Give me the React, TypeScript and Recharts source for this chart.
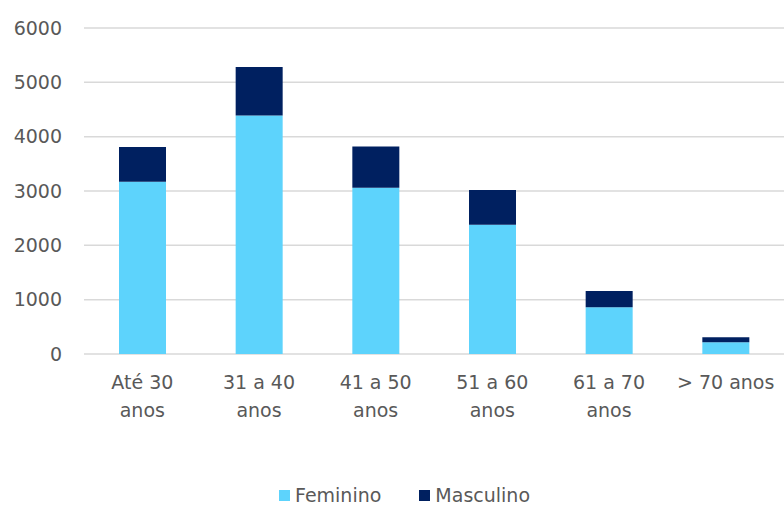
import React from "react";
import { BarChart, Bar, XAxis, YAxis, CartesianGrid, Legend } from "recharts";

// Age groups and headcount by sex
const categories = ["Até 30 anos", "31 a 40 anos", "41 a 50 anos", "51 a 60 anos", "61 a 70 anos", "> 70 anos"];
const tickLines = [["Até 30", "anos"], ["31 a 40", "anos"], ["41 a 50", "anos"], ["51 a 60", "anos"], ["61 a 70", "anos"], ["> 70 anos"]];
const feminino = [3170, 4390, 3060, 2380, 860, 215];
const masculino = [640, 890, 760, 640, 300, 95];
const yTicks = [0, 1000, 2000, 3000, 4000, 5000, 6000];

const seriesNames = { fem: "Feminino", masc: "Masculino" };
const colors = { fem: "#5DD3FC", masc: "#002060" };

const data = categories.map((c, i) => ({ name: c, fem: feminino[i], masc: masculino[i] }));

const FONT = "'DejaVu Sans', sans-serif";
const TEXT = "#595959";

const CategoryTick = (props: any) => {
  const { x, y, payload } = props;
  const lines = tickLines[payload.index] || [payload.value];
  return (
    <text x={x} y={y} textAnchor="middle" fill={TEXT} fontSize={19} fontFamily={FONT}>
      {lines.map((l, i) => (
        <tspan key={i} x={x} dy={i === 0 ? "0.71em" : 28}>
          {l}
        </tspan>
      ))}
    </text>
  );
};

const LegendContent = () => (
  <div style={{ display: "flex", alignItems: "center", fontFamily: FONT, fontSize: 19, color: TEXT, lineHeight: "22px", height: 22 }}>
    {(["fem", "masc"] as const).map((k, i) => (
      <div key={k} style={{ display: "flex", alignItems: "center", marginLeft: i === 0 ? 0 : 38 }}>
        <span style={{ width: 11, height: 11, background: colors[k], display: "inline-block", marginRight: 5 }} />
        <span>{seriesNames[k]}</span>
      </div>
    ))}
  </div>
);

export default function App() {
  return (
    <div style={{ position: "absolute", left: 0, top: 0, width: 784, height: 507, background: "#fff" }}>
      <BarChart width={784} height={507} data={data} margin={{ top: 28, right: 0, left: 0, bottom: 61 }} barSize={47}>
        <CartesianGrid horizontal vertical={false} stroke="#D9D9D9" strokeWidth={1.5} />
        <XAxis
          dataKey="name"
          height={70}
          axisLine={false}
          tickLine={false}
          tickSize={0}
          tickMargin={22}
          interval={0}
          tick={<CategoryTick />}
        />
        <YAxis
          width={84}
          domain={[0, 6000]}
          ticks={yTicks}
          axisLine={false}
          tickLine={false}
          tickSize={0}
          tickMargin={22}
          tick={{ fill: TEXT, fontSize: 19, fontFamily: FONT }}
        />
        <Bar dataKey="fem" name={seriesNames.fem} stackId="a" fill={colors.fem} isAnimationActive={false} />
        <Bar dataKey="masc" name={seriesNames.masc} stackId="a" fill={colors.masc} isAnimationActive={false} />
        <Legend content={<LegendContent />} wrapperStyle={{ position: "absolute", left: 279, top: 484, width: "auto" }} />
      </BarChart>
    </div>
  );
}
